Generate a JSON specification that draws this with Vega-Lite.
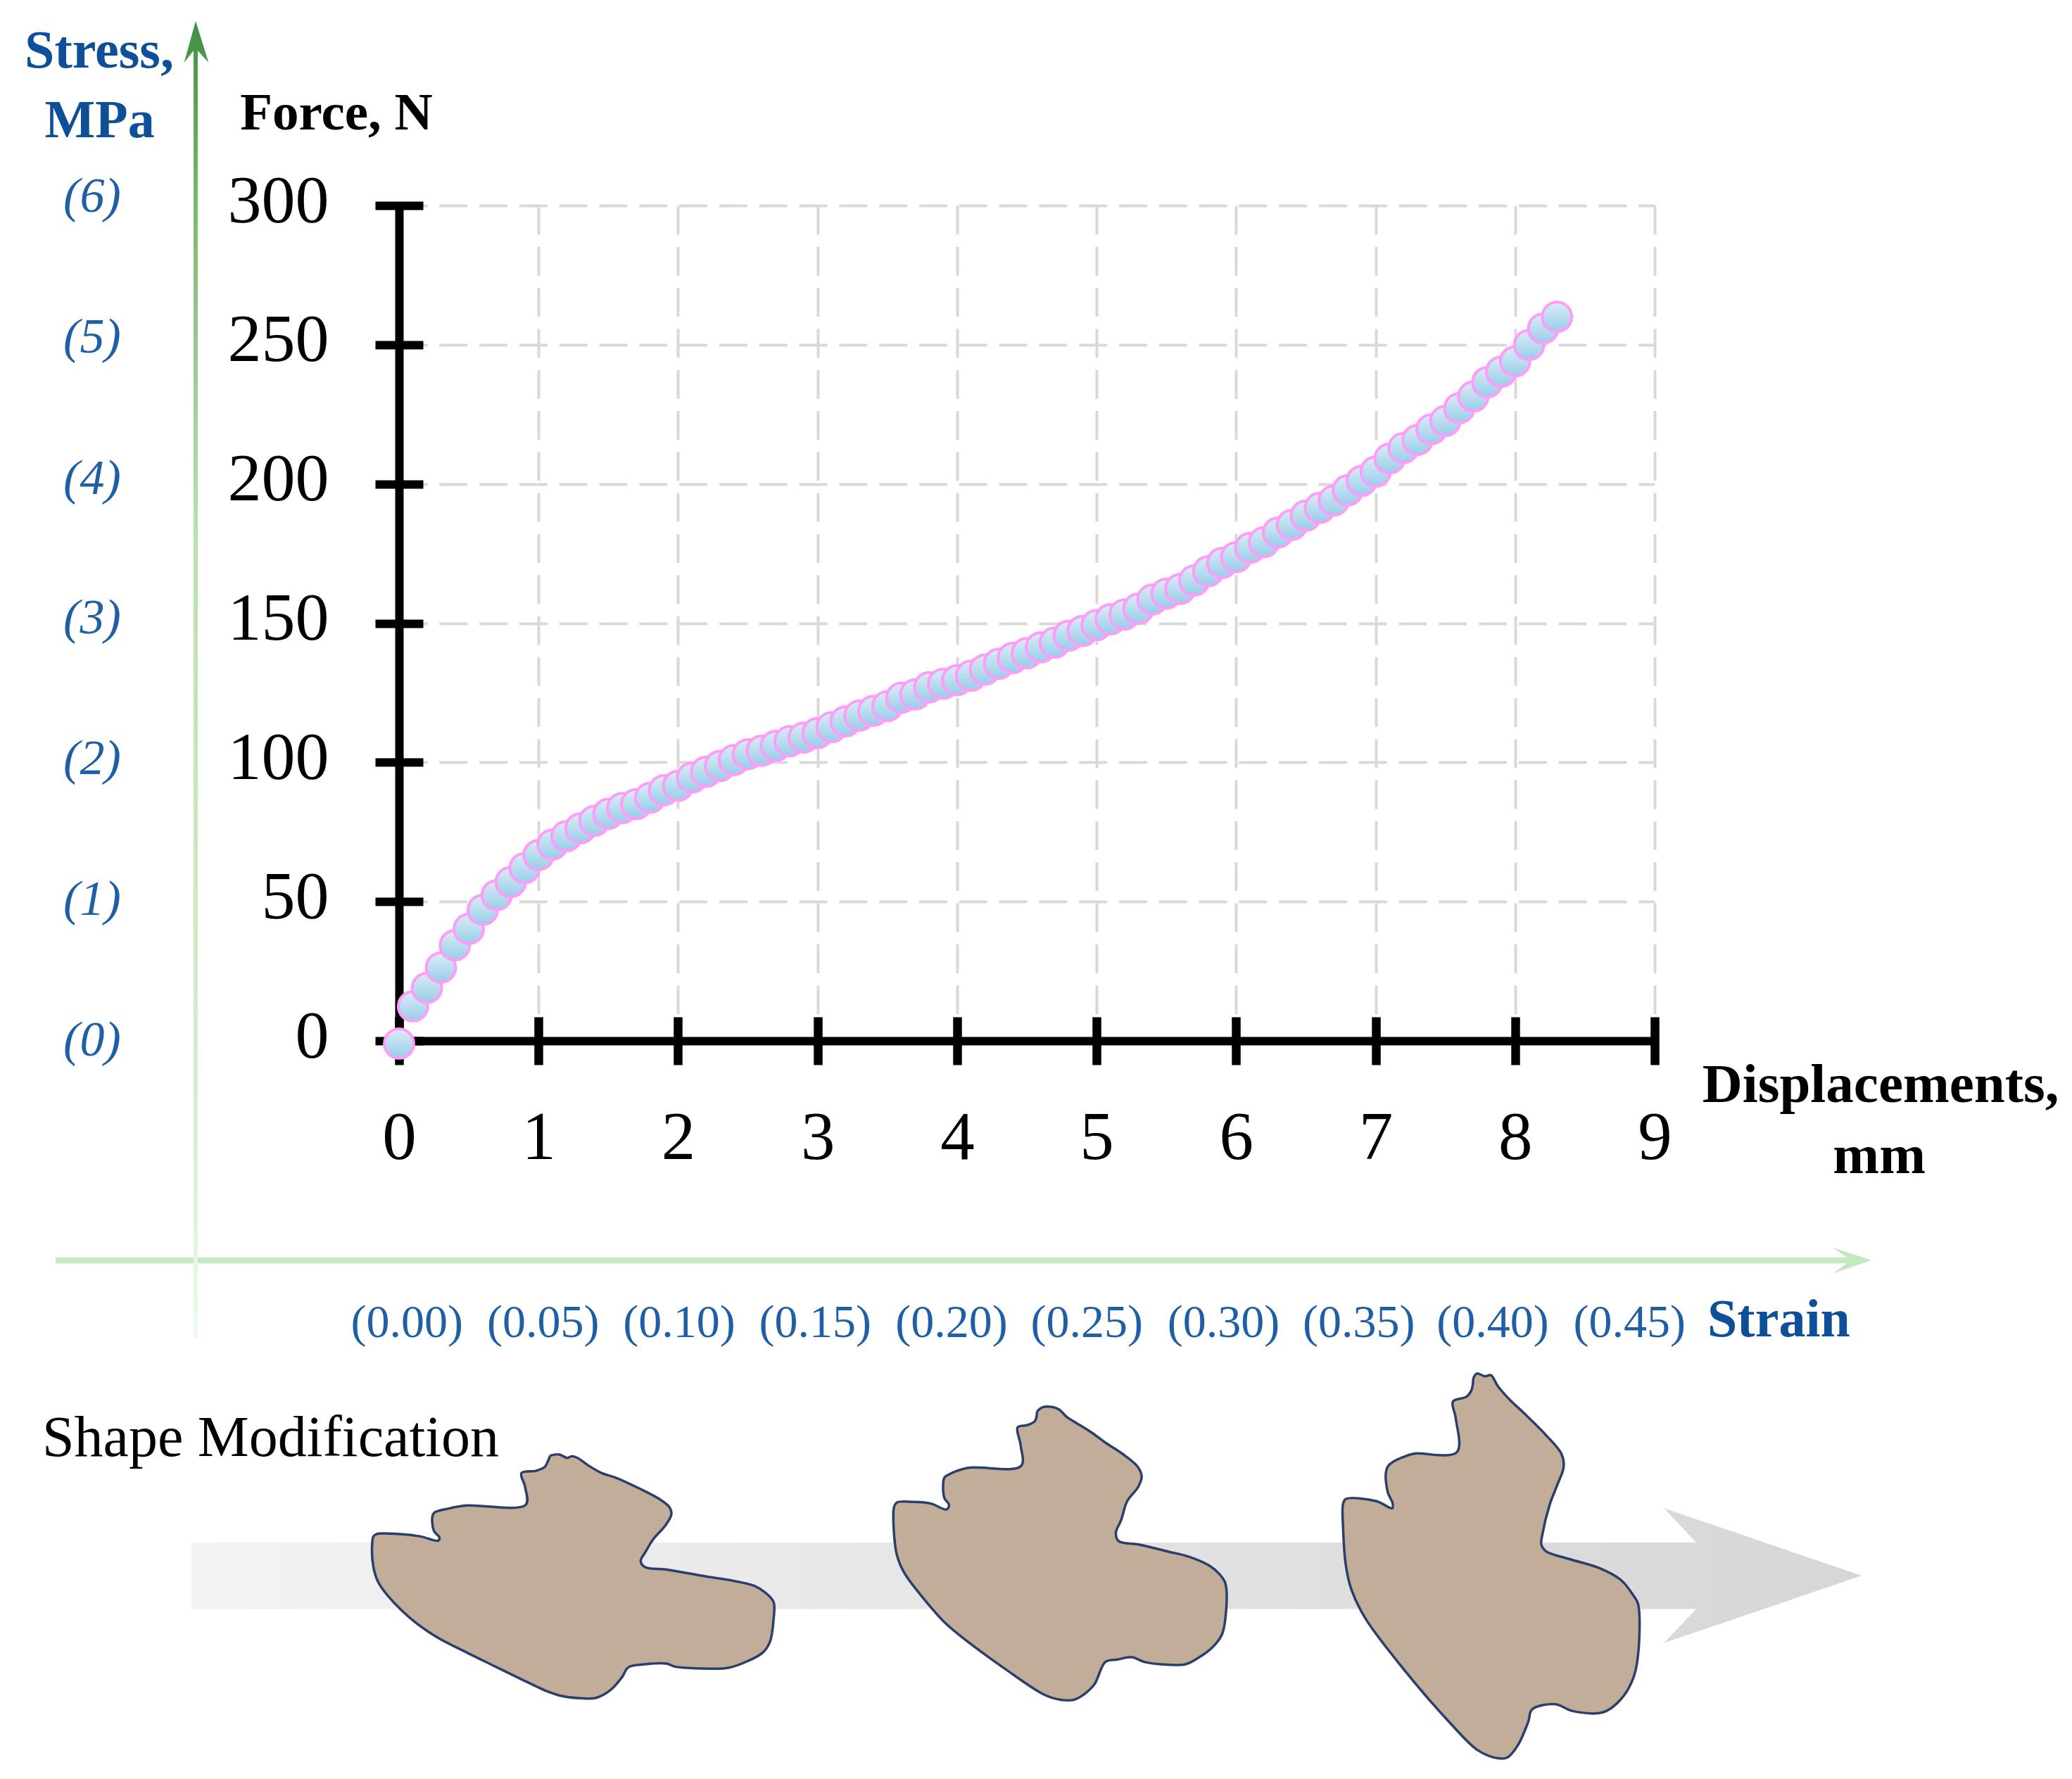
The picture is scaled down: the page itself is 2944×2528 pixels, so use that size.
{"$schema":"https://vega.github.io/schema/vega-lite/v6.json","autosize":{"type":"none"},"padding":{"left":567,"top":292,"right":593,"bottom":1049},"width":1784,"height":1187,"background":"white","view":{"stroke":null},"config":{"font":"Liberation Serif"},
"resolve":{"axis":{"x":"independent","y":"independent"}},
"datasets":{
"curve":[{"x":0,"y":-1},{"x":0.1,"y":12.4},{"x":0.2,"y":19},{"x":0.3,"y":26.3},{"x":0.4,"y":34.3},{"x":0.5,"y":40.2},{"x":0.6,"y":47},{"x":0.7,"y":52.3},{"x":0.8,"y":57},{"x":0.9,"y":62},{"x":1,"y":66.7},{"x":1.1,"y":70.5},{"x":1.2,"y":73.5},{"x":1.3,"y":76.3},{"x":1.4,"y":79},{"x":1.5,"y":81.5},{"x":1.6,"y":83.6},{"x":1.7,"y":85},{"x":1.8,"y":87.3},{"x":1.9,"y":90},{"x":2,"y":91.6},{"x":2.1,"y":94.5},{"x":2.2,"y":96.6},{"x":2.3,"y":98.7},{"x":2.4,"y":100.8},{"x":2.5,"y":102.9},{"x":2.6,"y":104.2},{"x":2.7,"y":105.9},{"x":2.8,"y":107.6},{"x":2.9,"y":108.9},{"x":3,"y":110.5},{"x":3.1,"y":112.6},{"x":3.2,"y":114.7},{"x":3.3,"y":116.8},{"x":3.4,"y":118.5},{"x":3.5,"y":120.2},{"x":3.6,"y":123.2},{"x":3.7,"y":124.4},{"x":3.8,"y":127},{"x":3.9,"y":128.2},{"x":4,"y":129.5},{"x":4.1,"y":131.1},{"x":4.2,"y":133.3},{"x":4.3,"y":135.4},{"x":4.4,"y":137.5},{"x":4.5,"y":139.2},{"x":4.6,"y":141.3},{"x":4.7,"y":143},{"x":4.8,"y":145.5},{"x":4.9,"y":147.2},{"x":5,"y":149.3},{"x":5.1,"y":151.4},{"x":5.2,"y":153.1},{"x":5.3,"y":155.2},{"x":5.4,"y":158.5},{"x":5.5,"y":160.6},{"x":5.6,"y":162.3},{"x":5.7,"y":165.3},{"x":5.8,"y":168.6},{"x":5.9,"y":171.6},{"x":6,"y":173.7},{"x":6.1,"y":177},{"x":6.2,"y":179.1},{"x":6.3,"y":182.5},{"x":6.4,"y":185.3},{"x":6.5,"y":188.6},{"x":6.6,"y":191.4},{"x":6.7,"y":194},{"x":6.8,"y":197.7},{"x":6.9,"y":201.1},{"x":7,"y":204.4},{"x":7.1,"y":209.1},{"x":7.2,"y":212.9},{"x":7.3,"y":215.8},{"x":7.4,"y":219.6},{"x":7.5,"y":222.6},{"x":7.6,"y":227.2},{"x":7.7,"y":231.4},{"x":7.8,"y":236.5},{"x":7.9,"y":240.3},{"x":8,"y":244},{"x":8.1,"y":249.9},{"x":8.2,"y":255.8},{"x":8.3,"y":260}],
"shapes":[
{"s":"a","x":1.083,"y":-148.96},{"s":"a","x":1.145,"y":-148.54},{"s":"a","x":1.206,"y":-149.8},{"s":"a","x":1.237,"y":-149.21},{"s":"a","x":1.279,"y":-149.8},{"s":"a","x":1.351,"y":-152.33},{"s":"a","x":1.454,"y":-155.28},{"s":"a","x":1.557,"y":-156.96},{"s":"a","x":1.721,"y":-160.75},{"s":"a","x":1.865,"y":-164.54},{"s":"a","x":1.938,"y":-167.49},{"s":"a","x":1.952,"y":-170.02},{"s":"a","x":1.907,"y":-174.23},{"s":"a","x":1.824,"y":-178.87},{"s":"a","x":1.762,"y":-183.92},{"s":"a","x":1.732,"y":-186.87},{"s":"a","x":1.762,"y":-188.97},{"s":"a","x":1.927,"y":-189.98},{"s":"a","x":2.195,"y":-192.34},{"s":"a","x":2.36,"y":-193.61},{"s":"a","x":2.545,"y":-195.71},{"s":"a","x":2.627,"y":-198.24},{"s":"a","x":2.685,"y":-201.61},{"s":"a","x":2.685,"y":-207.51},{"s":"a","x":2.658,"y":-215.93},{"s":"a","x":2.607,"y":-219.72},{"s":"a","x":2.504,"y":-222.67},{"s":"a","x":2.36,"y":-225.2},{"s":"a","x":2.133,"y":-225.36},{"s":"a","x":1.979,"y":-224.78},{"s":"a","x":1.917,"y":-223.68},{"s":"a","x":1.762,"y":-223.93},{"s":"a","x":1.643,"y":-225.03},{"s":"a","x":1.598,"y":-228.57},{"s":"a","x":1.515,"y":-233.2},{"s":"a","x":1.412,"y":-235.98},{"s":"a","x":1.309,"y":-236.15},{"s":"a","x":1.165,"y":-235.31},{"s":"a","x":1.062,"y":-233.62},{"s":"a","x":0.898,"y":-229.83},{"s":"a","x":0.692,"y":-224.78},{"s":"a","x":0.486,"y":-219.72},{"s":"a","x":0.259,"y":-213.82},{"s":"a","x":0.074,"y":-207.08},{"s":"a","x":-0.091,"y":-198.66},{"s":"a","x":-0.153,"y":-194.03},{"s":"a","x":-0.184,"y":-188.97},{"s":"a","x":-0.194,"y":-182.23},{"s":"a","x":-0.184,"y":-178.02},{"s":"a","x":-0.163,"y":-177.18},{"s":"a","x":0.012,"y":-177.18},{"s":"a","x":0.156,"y":-178.02},{"s":"a","x":0.28,"y":-179.54},{"s":"a","x":0.29,"y":-178.44},{"s":"a","x":0.249,"y":-175.92},{"s":"a","x":0.239,"y":-170.86},{"s":"a","x":0.253,"y":-169.43},{"s":"a","x":0.362,"y":-167.91},{"s":"a","x":0.486,"y":-166.9},{"s":"a","x":0.908,"y":-166.65},{"s":"a","x":0.904,"y":-160.33},{"s":"a","x":0.877,"y":-155.28},{"s":"a","x":0.98,"y":-154.44},{"s":"a","x":1.042,"y":-153.17},{"s":"a","x":1.066,"y":-151.07},{"s":"a","x":1.083,"y":-148.96},
{"s":"b","x":4.573,"y":-133.18},{"s":"b","x":4.611,"y":-131.67},{"s":"b","x":4.681,"y":-131.5},{"s":"b","x":4.733,"y":-132.51},{"s":"b","x":4.785,"y":-135.04},{"s":"b","x":4.837,"y":-136.72},{"s":"b","x":4.959,"y":-140.51},{"s":"b","x":5.063,"y":-144.3},{"s":"b","x":5.202,"y":-148.93},{"s":"b","x":5.297,"y":-153.15},{"s":"b","x":5.323,"y":-156.52},{"s":"b","x":5.297,"y":-160.31},{"s":"b","x":5.219,"y":-165.36},{"s":"b","x":5.176,"y":-172.1},{"s":"b","x":5.138,"y":-176.73},{"s":"b","x":5.158,"y":-179.68},{"s":"b","x":5.306,"y":-180.94},{"s":"b","x":5.515,"y":-183.47},{"s":"b","x":5.654,"y":-185.16},{"s":"b","x":5.81,"y":-188.53},{"s":"b","x":5.879,"y":-191.48},{"s":"b","x":5.923,"y":-194.85},{"s":"b","x":5.923,"y":-207.48},{"s":"b","x":5.897,"y":-213.38},{"s":"b","x":5.827,"y":-218.01},{"s":"b","x":5.723,"y":-221.8},{"s":"b","x":5.636,"y":-223.91},{"s":"b","x":5.462,"y":-223.91},{"s":"b","x":5.341,"y":-223.06},{"s":"b","x":5.254,"y":-221.38},{"s":"b","x":5.15,"y":-222.22},{"s":"b","x":5.063,"y":-223.06},{"s":"b","x":4.985,"y":-231.07},{"s":"b","x":4.906,"y":-234.86},{"s":"b","x":4.828,"y":-236.79},{"s":"b","x":4.681,"y":-235.95},{"s":"b","x":4.594,"y":-234.02},{"s":"b","x":4.368,"y":-226.43},{"s":"b","x":4.09,"y":-216.33},{"s":"b","x":3.916,"y":-209.16},{"s":"b","x":3.76,"y":-200.32},{"s":"b","x":3.621,"y":-191.06},{"s":"b","x":3.569,"y":-184.74},{"s":"b","x":3.548,"y":-177.15},{"s":"b","x":3.548,"y":-167.47},{"s":"b","x":3.569,"y":-165.78},{"s":"b","x":3.69,"y":-165.61},{"s":"b","x":3.812,"y":-166.2},{"s":"b","x":3.925,"y":-168.31},{"s":"b","x":3.942,"y":-166.62},{"s":"b","x":3.908,"y":-164.1},{"s":"b","x":3.908,"y":-156.94},{"s":"b","x":3.934,"y":-155.93},{"s":"b","x":4.073,"y":-153.4},{"s":"b","x":4.458,"y":-152.73},{"s":"b","x":4.455,"y":-145.14},{"s":"b","x":4.434,"y":-138.83},{"s":"b","x":4.507,"y":-137.98},{"s":"b","x":4.559,"y":-136.47},{"s":"b","x":4.573,"y":-133.18},
{"s":"c","x":7.7,"y":-121.24},{"s":"c","x":7.725,"y":-119.53},{"s":"c","x":7.784,"y":-120.48},{"s":"c","x":7.826,"y":-120.1},{"s":"c","x":7.877,"y":-124.08},{"s":"c","x":7.969,"y":-129.29},{"s":"c","x":8.07,"y":-134.03},{"s":"c","x":8.221,"y":-141.61},{"s":"c","x":8.331,"y":-148.24},{"s":"c","x":8.348,"y":-152.98},{"s":"c","x":8.305,"y":-159.14},{"s":"c","x":8.247,"y":-166.72},{"s":"c","x":8.196,"y":-177.15},{"s":"c","x":8.188,"y":-180.94},{"s":"c","x":8.221,"y":-183.31},{"s":"c","x":8.39,"y":-186.15},{"s":"c","x":8.608,"y":-189.47},{"s":"c","x":8.76,"y":-193.73},{"s":"c","x":8.844,"y":-198.94},{"s":"c","x":8.881,"y":-202.26},{"s":"c","x":8.881,"y":-220.74},{"s":"c","x":8.844,"y":-229.27},{"s":"c","x":8.76,"y":-236.37},{"s":"c","x":8.633,"y":-241.11},{"s":"c","x":8.406,"y":-240.64},{"s":"c","x":8.289,"y":-238.27},{"s":"c","x":8.121,"y":-240.16},{"s":"c","x":8.095,"y":-244.43},{"s":"c","x":8.02,"y":-252.95},{"s":"c","x":7.944,"y":-257.41},{"s":"c","x":7.877,"y":-257.69},{"s":"c","x":7.734,"y":-254.85},{"s":"c","x":7.532,"y":-244.9},{"s":"c","x":7.213,"y":-226.42},{"s":"c","x":6.927,"y":-207.47},{"s":"c","x":6.826,"y":-197.05},{"s":"c","x":6.787,"y":-188.52},{"s":"c","x":6.767,"y":-175.25},{"s":"c","x":6.767,"y":-166.25},{"s":"c","x":6.787,"y":-164.54},{"s":"c","x":7.002,"y":-165.3},{"s":"c","x":7.12,"y":-167.86},{"s":"c","x":7.12,"y":-165.77},{"s":"c","x":7.086,"y":-161.98},{"s":"c","x":7.086,"y":-152.98},{"s":"c","x":7.213,"y":-149.19},{"s":"c","x":7.28,"y":-148.24},{"s":"c","x":7.582,"y":-147.77},{"s":"c","x":7.574,"y":-135.45},{"s":"c","x":7.554,"y":-129.58},{"s":"c","x":7.65,"y":-127.87},{"s":"c","x":7.687,"y":-125.5},{"s":"c","x":7.7,"y":-121.24}],
"grayArrow":[{"x":-1.488,"y":-180.2},{"x":9.298,"y":-180.2},{"x":9.066,"y":-167.8},{"x":10.483,"y":-192.1},{"x":9.066,"y":-216.3},{"x":9.298,"y":-204.1},{"x":-1.488,"y":-204.1}],
"stressArrow":[{"x":-1.458,"y":366.2},{"x":-1.365,"y":351.3},{"x":-1.443,"y":355.6},{"x":-1.443,"y":-106.9},{"x":-1.473,"y":-106.9},{"x":-1.473,"y":355.6},{"x":-1.541,"y":351.3}],
"strainArrow":[{"x":-2.462,"y":-77.8},{"x":10.377,"y":-77.8},{"x":10.277,"y":-74.3},{"x":10.554,"y":-78.8},{"x":10.277,"y":-83.6},{"x":10.377,"y":-79.9},{"x":-2.462,"y":-79.9}],
"stress":[{"x":-2.2,"y":303,"t":"(6)"},{"x":-2.2,"y":252.5,"t":"(5)"},{"x":-2.2,"y":201.8,"t":"(4)"},{"x":-2.2,"y":151.7,"t":"(3)"},{"x":-2.2,"y":101.2,"t":"(2)"},{"x":-2.2,"y":50.6,"t":"(1)"},{"x":-2.2,"y":0.1,"t":"(0)"}],
"strain":[{"x":0.057,"y":-106.4,"t":"(0.00)"},{"x":1.033,"y":-106.4,"t":"(0.05)"},{"x":2.008,"y":-106.4,"t":"(0.10)"},{"x":2.983,"y":-106.4,"t":"(0.15)"},{"x":3.96,"y":-106.4,"t":"(0.20)"},{"x":4.93,"y":-106.4,"t":"(0.25)"},{"x":5.91,"y":-106.4,"t":"(0.30)"},{"x":6.88,"y":-106.4,"t":"(0.35)"},{"x":7.84,"y":-106.4,"t":"(0.40)"},{"x":8.82,"y":-106.4,"t":"(0.45)"}],
"blueTitles":[{"x":-2.149,"y":349.5,"t":"Stress,"},{"x":-2.146,"y":324.5,"t":"MPa"},{"x":9.89,"y":-106.1,"t":"Strain"}],
"blackTitles":[{"x":-0.449,"y":327.3,"t":"Force, N"},{"x":10.62,"y":-22,"t":"Displacements,"},{"x":10.61,"y":-47.5,"t":"mm"}],
"caption":[{"x":-2.558,"y":-149.1,"t":"Shape Modification"}]
},
"layer":[
{"data":{"name":"grayArrow"},"mark":{"type":"line","fill":{"gradient":"linear","x1":0,"y1":0,"x2":1,"y2":0,"stops":[{"offset":0,"color":"#f3f3f3"},{"offset":1,"color":"#d6d6d6"}]},"stroke":null,"strokeWidth":0},
"encoding":{"x":{"field":"x","type":"quantitative","scale":{"domain":[0,9],"nice":false,"zero":false},"axis":{"orient":"bottom","title":null,"values":[0,1,2,3,4,5,6,7,8,9],"labels":true,"labelFont":"Liberation Serif","labelFontSize":97,"labelColor":"black","labelPadding":90,"labelFlush":false,"labelOverlap":false,"ticks":false,"tickSize":0,"domain":true,"domainColor":"black","domainWidth":12,"grid":true,"gridColor":"#d9d9d9","gridWidth":4,"gridDash":[41,17.3],"gridOpacity":1},"title":null},
"y":{"field":"y","type":"quantitative","scale":{"domain":[0,300],"nice":false,"zero":false},"axis":{"orient":"left","title":null,"values":[0,50,100,150,200,250,300],"labels":true,"labelFont":"Liberation Serif","labelFontSize":96,"labelColor":"black","labelPadding":100,"labelOffset":-6,"labelOverlap":false,"labelFlush":false,"ticks":false,"tickSize":0,"domain":true,"domainColor":"black","domainWidth":12,"grid":true,"gridColor":"#d9d9d9","gridWidth":4,"gridDash":[40,16.8],"gridOpacity":1},"title":null},
"order":{"value":null}}},
{"data":{"name":"strainArrow"},"mark":{"type":"line","fill":"#c4e8bf","stroke":null,"strokeWidth":0},
"encoding":{"x":{"field":"x","type":"quantitative","axis":{"orient":"bottom","title":null,"values":[0,1,2,3,4,5,6,7,8,9],"labels":false,"domain":false,"grid":false,"ticks":true,"tickColor":"black","tickWidth":12.5,"tickSize":68,"offset":-34}},
"y":{"field":"y","type":"quantitative","axis":{"orient":"left","title":null,"values":[0,50,100,150,200,250,300],"labels":false,"domain":false,"grid":false,"ticks":true,"tickColor":"black","tickWidth":12,"tickSize":68,"offset":-34}},
"order":{"value":null}}},
{"data":{"name":"stressArrow"},"mark":{"type":"line","fill":{"gradient":"linear","x1":0,"y1":0,"x2":0,"y2":1,"stops":[{"offset":0,"color":"#3f9142"},{"offset":0.15,"color":"#7dbb72"},{"offset":0.4,"color":"#b9e2b0"},{"offset":0.85,"color":"#d6f0d0"},{"offset":1,"color":"#eefaee"}]},"stroke":null,"strokeWidth":0},
"encoding":{"x":{"field":"x","type":"quantitative","axis":null},"y":{"field":"y","type":"quantitative","axis":null},"order":{"value":null}}},
{"data":{"name":"shapes"},"mark":{"type":"line","interpolate":"catmull-rom","fill":"#c2ad98","stroke":"#2a3f6b","strokeWidth":3.5},
"encoding":{"x":{"field":"x","type":"quantitative","axis":null},"y":{"field":"y","type":"quantitative","axis":null},"detail":{"field":"s"},"order":{"value":null}}},
{"data":{"name":"curve"},"mark":{"type":"point","filled":true,"opacity":1,"size":1750,"strokeWidth":4,"stroke":"#ff9cf7","fill":{"gradient":"linear","x1":0,"y1":0,"x2":0,"y2":1,"stops":[{"offset":0,"color":"#dcecf6"},{"offset":1,"color":"#98cde8"}]},"shape":"circle"},
"encoding":{"x":{"field":"x","type":"quantitative","axis":null},"y":{"field":"y","type":"quantitative","axis":null}}},
{"data":{"name":"stress"},"mark":{"type":"text","font":"Liberation Serif","fontStyle":"italic","fontSize":70,"color":"#1f5fa5","align":"center","baseline":"middle"},
"encoding":{"x":{"field":"x","type":"quantitative","axis":null},"y":{"field":"y","type":"quantitative","axis":null},"text":{"field":"t"}}},
{"data":{"name":"strain"},"mark":{"type":"text","font":"Liberation Serif","fontSize":66,"color":"#1f5fa5","align":"center","baseline":"alphabetic"},
"encoding":{"x":{"field":"x","type":"quantitative","axis":null},"y":{"field":"y","type":"quantitative","axis":null},"text":{"field":"t"}}},
{"data":{"name":"blueTitles"},"mark":{"type":"text","font":"Liberation Serif","fontWeight":"bold","fontSize":76,"color":"#0e4f99","align":"center","baseline":"alphabetic"},
"encoding":{"x":{"field":"x","type":"quantitative","axis":null},"y":{"field":"y","type":"quantitative","axis":null},"text":{"field":"t"}}},
{"data":{"name":"blackTitles"},"transform":[{"filter":"datum.t !== 'Displacements,' && datum.t !== 'mm'"}],"mark":{"type":"text","font":"Liberation Serif","fontWeight":"bold","fontSize":75,"color":"black","align":"center","baseline":"alphabetic"},
"encoding":{"x":{"field":"x","type":"quantitative","axis":null},"y":{"field":"y","type":"quantitative","axis":null},"text":{"field":"t"}}},
{"data":{"name":"blackTitles"},"transform":[{"filter":"datum.t === 'Displacements,' || datum.t === 'mm'"}],"mark":{"type":"text","font":"Liberation Serif","fontWeight":"bold","fontSize":79,"color":"black","align":"center","baseline":"alphabetic"},
"encoding":{"x":{"field":"x","type":"quantitative","axis":null},"y":{"field":"y","type":"quantitative","axis":null},"text":{"field":"t"}}},
{"data":{"name":"caption"},"mark":{"type":"text","font":"Liberation Serif","fontSize":82,"color":"black","align":"left","baseline":"alphabetic"},
"encoding":{"x":{"field":"x","type":"quantitative","axis":null},"y":{"field":"y","type":"quantitative","axis":null},"text":{"field":"t"}}}
]}
